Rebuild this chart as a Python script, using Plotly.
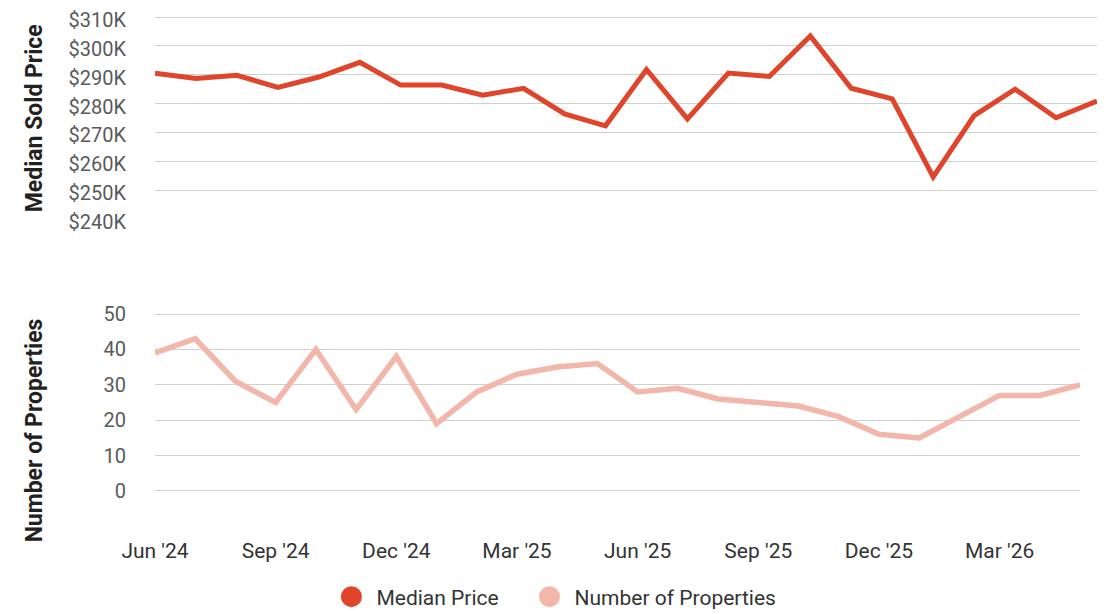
import plotly.graph_objects as go

months = ["Jun '24", "Jul '24", "Aug '24", "Sep '24", "Oct '24", "Nov '24",
          "Dec '24", "Jan '25", "Feb '25", "Mar '25", "Apr '25", "May '25",
          "Jun '25", "Jul '25", "Aug '25", "Sep '25", "Oct '25", "Nov '25",
          "Dec '25", "Jan '26", "Feb '26", "Mar '26", "Apr '26", "May '26"]

median_price = [290500, 288700, 289800, 285600, 289200, 294300,
                286400, 286400, 282900, 285300, 276400, 272300,
                291800, 274700, 290600, 289400, 303400, 285300,
                281600, 254600, 275800, 285000, 275100, 280900]

num_properties = [39, 43, 31, 25, 40, 23,
                  38, 19, 28, 33, 35, 36,
                  28, 29, 26, 25, 24, 21,
                  16, 15, 21, 27, 27, 30]

x_ticks = ["Jun '24", "Sep '24", "Dec '24", "Mar '25", "Jun '25", "Sep '25", "Dec '25", "Mar '26"]
price_ticks = [240000, 250000, 260000, 270000, 280000, 290000, 300000, 310000]
price_tick_text = ["$240K", "$250K", "$260K", "$270K", "$280K", "$290K", "$300K", "$310K"]
count_ticks = [0, 10, 20, 30, 40, 50]

PRICE_COLOR = "#E0442B"
COUNT_COLOR = "#F2B6AB"
FONT = "Roboto, 'Open Sans', sans-serif"

fig = go.Figure()

fig.add_trace(go.Scatter(
    x=months, y=median_price, mode="lines", name="Median Price",
    line=dict(color=PRICE_COLOR, width=5), xaxis="x", yaxis="y",
    showlegend=False, hoverinfo="x+y"))
fig.add_trace(go.Scatter(
    x=months, y=num_properties, mode="lines", name="Number of Properties",
    line=dict(color=COUNT_COLOR, width=5.5), xaxis="x2", yaxis="y2",
    showlegend=False, hoverinfo="x+y"))

# legend entries (large circle symbols)
fig.add_trace(go.Scatter(
    x=[None], y=[None], mode="markers", name="Median Price&nbsp;&nbsp;&nbsp;&nbsp;",
    marker=dict(color=PRICE_COLOR, size=16, line=dict(color=PRICE_COLOR, width=5)),
    xaxis="x2", yaxis="y2"))
fig.add_trace(go.Scatter(
    x=[None], y=[None], mode="markers", name="Number of Properties",
    marker=dict(color=COUNT_COLOR, size=16, line=dict(color=COUNT_COLOR, width=5)),
    xaxis="x2", yaxis="y2"))

grid = "#D0D0D0"
tickfont_y = dict(family=FONT, size=20, color="#5A5A5A")
tickfont_x = dict(family=FONT, size=21, color="#333333")

fig.update_layout(
    width=1098, height=606,
    margin=dict(l=147, r=9, t=7, b=84, autoexpand=False),
    paper_bgcolor="white", plot_bgcolor="white",
    font=dict(family=FONT),
    xaxis=dict(domain=[0, 1], anchor="y", type="category", categoryorder="array",
               categoryarray=months, range=[0, len(months) - 1], automargin=False,
               showgrid=False, showticklabels=False, showline=False, zeroline=False, ticks=""),
    yaxis=dict(domain=[0.60388, 1], anchor="x", range=[240000, 310693], automargin=False,
               tickvals=price_ticks, ticktext=price_tick_text, ticklabeloverflow="allow",
               ticklabelshift=3,
               showgrid=True, gridcolor=grid, gridwidth=1, zeroline=False,
               showline=False, ticks="", ticklabelstandoff=28, tickfont=tickfont_y),
    xaxis2=dict(domain=[0, 0.982], anchor="y2", type="category", categoryorder="array",
                categoryarray=months, range=[0, len(months) - 1], automargin=False,
                tickvals=x_ticks, ticktext=x_ticks, ticklabeloverflow="allow",
                showgrid=False, showline=False, zeroline=False, ticks="",
                ticklabelstandoff=6, tickfont=tickfont_x),
    yaxis2=dict(domain=[0, 0.42330], anchor="x2", range=[-11.02, 50.565], automargin=False,
                tickvals=count_ticks, ticklabeloverflow="allow",
                showgrid=True, gridcolor=grid, gridwidth=1, zeroline=False,
                showline=False, ticks="", ticklabelstandoff=28, tickfont=tickfont_y),
    legend=dict(orientation="h", xanchor="center", yanchor="middle",
                x=0.4235, y=-0.1301, font=dict(family=FONT, size=21, color="#333333"),
                itemsizing="trace", itemwidth=40, bgcolor="rgba(0,0,0,0)"),
    annotations=[
        dict(text="<b>Median Sold Price</b>", xref="paper", yref="paper",
             x=-0.127, y=0.8, textangle=-90, showarrow=False,
             xanchor="center", yanchor="middle",
             font=dict(family=FONT, size=23, color="#222222")),
        dict(text="<b>Number of Properties</b>", xref="paper", yref="paper",
             x=-0.127, y=0.1942, textangle=-90, showarrow=False,
             xanchor="center", yanchor="middle",
             font=dict(family=FONT, size=23, color="#222222")),
    ],
)

fig.write_html("out.html")
